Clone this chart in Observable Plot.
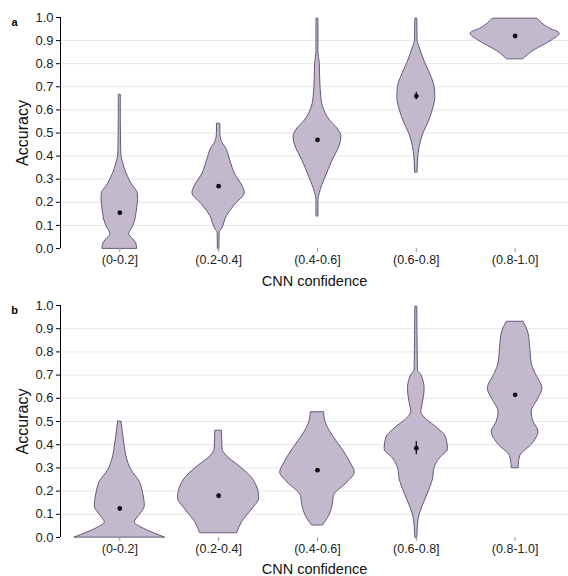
<!DOCTYPE html>
<html>
<head>
<meta charset="utf-8">
<script src="https://cdn.jsdelivr.net/npm/d3@7"></script>
<script src="https://cdn.jsdelivr.net/npm/@observablehq/plot@0.6"></script>
<style>
  body { margin: 0; background: #fff; }
  #chart svg { display: block; overflow: visible; }
</style>
</head>
<body>
<div id="chart"></div>
<script>
// Categories (CNN confidence bins)
const categories = ["(0-0.2]", "(0.2-0.4]", "(0.4-0.6]", "(0.6-0.8]", "(0.8-1.0]"];
const yTicks = [0, 0.1, 0.2, 0.3, 0.4, 0.5, 0.6, 0.7, 0.8, 0.9, 1.0];

// Violin profiles: [accuracy, half-width of density (in category units)]
// Panel a
const violinA1 = [[0.0,.175],[0.02,.168],[0.04,.135],[0.062,.095],[0.09,.128],[0.12,.155],[0.15,.168],[0.18,.178],[0.21,.185],[0.24,.182],[0.26,.152],[0.28,.118],[0.31,.084],[0.34,.054],[0.37,.034],[0.40,.017],[0.45,.013],[0.55,.010],[0.665,.010]];
const violinA2 = [[0.0,.008],[0.07,.010],[0.08,.027],[0.14,.084],[0.19,.168],[0.24,.265],[0.27,.242],[0.32,.168],[0.38,.118],[0.44,.067],[0.46,.034],[0.50,.017],[0.54,.017]];
const violinA3 = [[0.14,.010],[0.21,.010],[0.24,.024],[0.31,.084],[0.38,.152],[0.45,.229],[0.48,.242],[0.52,.202],[0.55,.135],[0.60,.067],[0.65,.040],[0.74,.027],[0.80,.024],[0.85,.010],[0.995,.010]];
const violinA4 = [[0.33,.013],[0.38,.017],[0.44,.034],[0.50,.074],[0.54,.118],[0.60,.168],[0.655,.192],[0.70,.185],[0.755,.141],[0.81,.084],[0.87,.034],[0.90,.013],[0.995,.010]];
const violinA5 = [[0.82,.084],[0.855,.185],[0.90,.370],[0.93,.451],[0.955,.337],[0.995,.226]];
const meansA = [0.155, 0.27, 0.47, 0.66, 0.92];
const errA = [0.004, 0.004, 0.005, 0.016, 0.004];

// Panel b
const violinB1 = [[0.0,.455],[0.02,.337],[0.043,.219],[0.064,.152],[0.093,.195],[0.135,.253],[0.19,.236],[0.24,.202],[0.29,.118],[0.35,.067],[0.39,.051],[0.44,.034],[0.50,.017]];
const violinB2 = [[0.02,.189],[0.065,.236],[0.12,.337],[0.17,.411],[0.22,.387],[0.265,.320],[0.31,.202],[0.35,.084],[0.38,.040],[0.46,.034]];
const violinB3 = [[0.053,.057],[0.093,.118],[0.136,.152],[0.18,.168],[0.237,.303],[0.28,.377],[0.32,.337],[0.38,.253],[0.44,.152],[0.495,.084],[0.54,.067]];
const violinB4 = [[0.0,.010],[0.08,.024],[0.12,.051],[0.19,.118],[0.25,.168],[0.30,.185],[0.34,.236],[0.38,.320],[0.43,.303],[0.47,.219],[0.51,.101],[0.54,.051],[0.58,.067],[0.64,.084],[0.70,.051],[0.72,.017],[0.995,.010]];
const violinB5 = [[0.30,.034],[0.35,.051],[0.40,.168],[0.455,.236],[0.50,.185],[0.54,.168],[0.60,.236],[0.64,.276],[0.71,.202],[0.75,.168],[0.82,.152],[0.88,.135],[0.93,.084]];
const meansB = [0.125, 0.18, 0.29, 0.385, 0.615];
const errB = [0.004, 0.007, 0.004, 0.028, 0.006];

const violinsA = [violinA1, violinA2, violinA3, violinA4, violinA5];
const violinsB = [violinB1, violinB2, violinB3, violinB4, violinB5];

const FILL = "#c3b9cc";
const STROKE = "#66577a";
const FONT = "'Liberation Sans', Arial, sans-serif";

function panel(letter, violins, means, errs, mt, mb, titleDy) {
  const long = [];
  violins.forEach((v, i) => v.forEach(([acc, w]) => long.push({cat: i + 1, acc, w})));
  const summary = means.map((m, i) => ({cat: i + 1, m, e: errs[i]}));
  return Plot.plot({
    width: 568,
    height: 288,
    marginLeft: 60,
    marginRight: 0,
    marginTop: mt,
    marginBottom: mb,
    style: {fontFamily: FONT, fontSize: "13px", color: "#222", background: "#fff"},
    x: {type: "linear", domain: [0.4, 5.54], axis: null},
    y: {domain: [0, 1], axis: null},
    marks: [
      Plot.gridY(yTicks.slice(1, 10), {stroke: "#e6e6e6", strokeOpacity: 1}),
      Plot.areaX(long, {
        y: "acc", x1: d => d.cat - d.w, x2: d => d.cat + d.w, z: "cat",
        fill: FILL, stroke: STROKE, strokeWidth: 1, curve: "monotone-y"
      }),
      Plot.ruleX(summary, {x: "cat", y1: d => d.m - d.e, y2: d => d.m + d.e, stroke: "#111", strokeWidth: 1.3}),
      Plot.dot(summary, {x: "cat", y: "m", r: 2.4, fill: "#111", stroke: null}),
      Plot.ruleX([0.4], {y1: 0, y2: 1, stroke: "#000", strokeWidth: 1}),
      Plot.axisY(yTicks, {tickFormat: d3.format(".1f"), tickSize: 4, tickPadding: 3, fontSize: 13, label: null, stroke: "#000"}),
      Plot.axisX([1, 2, 3, 4, 5], {tickFormat: i => categories[i - 1], tickSize: 4, tickPadding: 3, fontSize: 12.5, label: null, stroke: "#999"}),
      Plot.text(["CNN confidence"], {frameAnchor: "bottom", dy: titleDy, lineAnchor: "bottom", fontSize: 14.5, fill: "#111"}),
      Plot.text(["Accuracy"], {frameAnchor: "left", dx: -38, rotate: -90, textAnchor: "middle", lineAnchor: "middle", fontSize: 16, fill: "#111"}),
      Plot.text([letter], {frameAnchor: "top-left", dx: -46, dy: 5, lineAnchor: "middle", textAnchor: "middle", fontSize: 11, fontWeight: "bold", fill: "#000"})
    ]
  });
}

const root = document.getElementById("chart");
root.appendChild(panel("a", violinsA, meansA, errA, 17, 40, 37));
root.appendChild(panel("b", violinsB, meansB, errB, 17, 39, 36));
</script>
</body>
</html>
